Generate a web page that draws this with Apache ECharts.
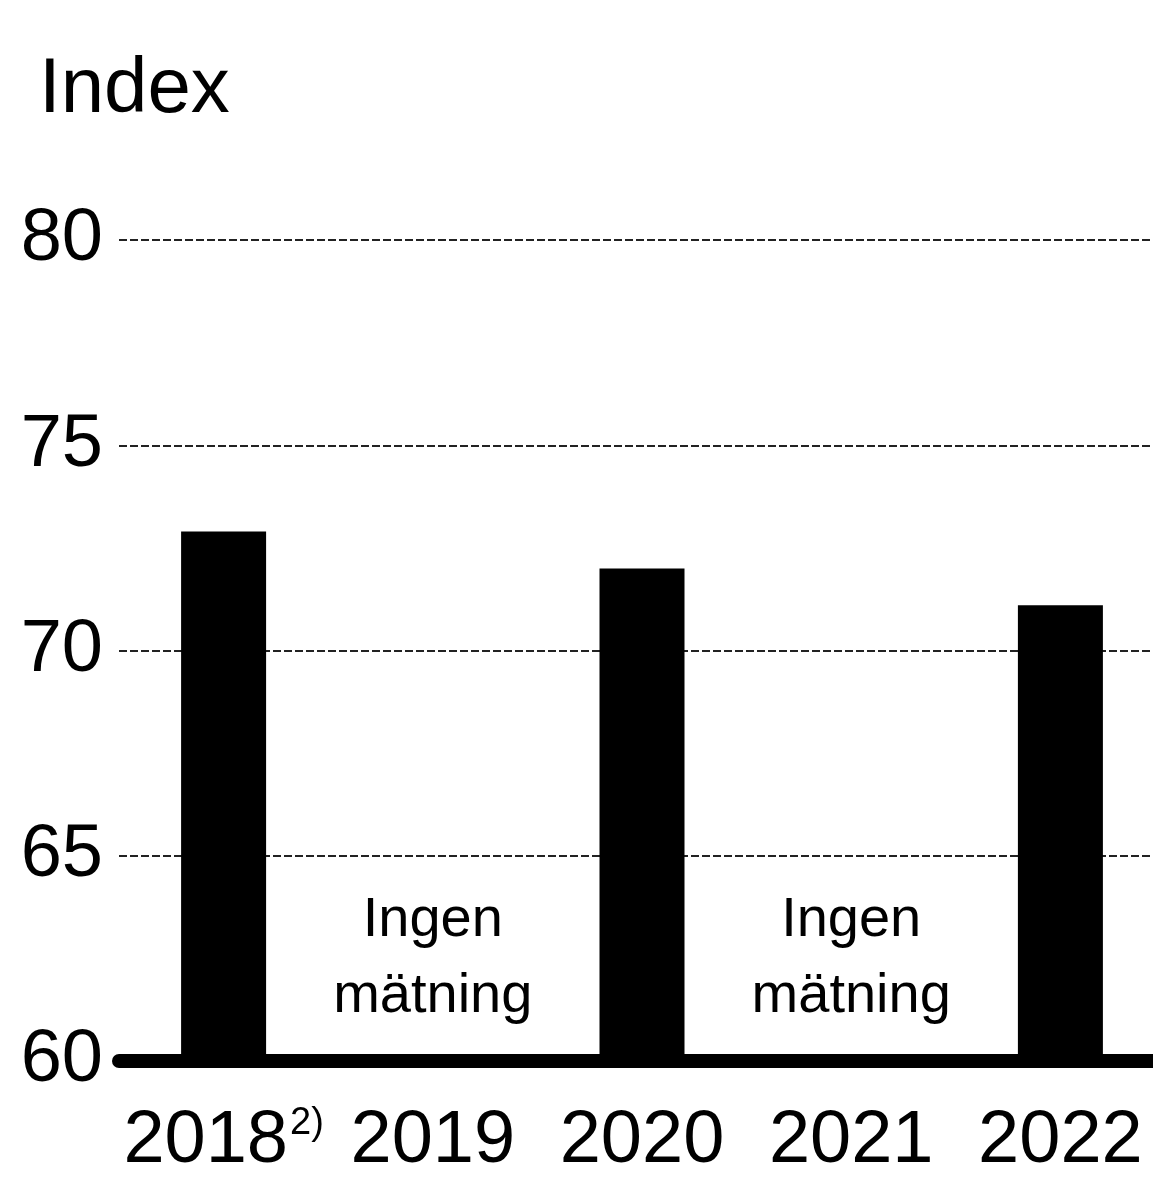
<!DOCTYPE html>
<html>
<head>
<meta charset="utf-8">
<script src="https://cdn.jsdelivr.net/npm/echarts@6/dist/echarts.min.js"></script>
<style>
  html, body { margin: 0; padding: 0; background: #fff; }
  #chart { width: 1153px; height: 1179px; }
</style>
</head>
<body>
<div id="chart"></div>
<script>
// data
var years = ['2018', '2019', '2020', '2021', '2022'];
var yearNotes = ['2)', '', '', '', ''];
var indexValues = [72.9, null, 72.0, null, 71.1];
var noMeasureYears = ['2019', '2021'];
var noMeasureText = 'Ingen\nmätning';
var yTicks = [60, 65, 70, 75, 80];

// no narrow face installed, so sizes are a compromise between the scan's height and width
var font = 'Liberation Sans';
var tickSize = 74;
var chart = echarts.init(document.getElementById('chart'));

var option = {
    backgroundColor: '#fff',
    animation: false,
    textStyle: { fontFamily: font, color: '#000' },
    title: {
        text: 'Index',
        left: 34,
        top: 46,
        textStyle: { fontFamily: font, fontSize: 78, fontWeight: 'normal', color: '#000' }
    },
    grid: {
        left: 119,
        right: -12,
        top: 240,
        bottom: 118,
        outerBoundsMode: 'none',
        containLabel: false
    },
    xAxis: {
        type: 'category',
        data: years,
        axisLine: { show: true, lineStyle: { color: '#000', width: 14 } },
        axisTick: { show: false },
        axisLabel: {
            margin: 44,
            color: '#000',
            formatter: function (v, i) {
                var note = yearNotes[i];
                return note ? '{y|' + v + '}{s|' + note + '}' : '{y|' + v + '}';
            },
            rich: {
                y: { fontFamily: font, fontSize: tickSize, color: '#000' },
                s: { fontFamily: font, fontSize: 38, color: '#000', verticalAlign: 'top', padding: [0, 0, 0, 2] }
            }
        }
    },
    yAxis: {
        type: 'value',
        min: yTicks[0],
        max: yTicks[yTicks.length - 1],
        interval: 5,
        axisLine: { show: false },
        axisTick: { show: false },
        axisLabel: { margin: 16, fontFamily: font, fontSize: tickSize, color: '#000' },
        splitLine: { lineStyle: { color: '#222', width: 2, type: [8, 3] } }
    },
    series: [{
        type: 'bar',
        data: indexValues,
        barWidth: 85,
        itemStyle: { color: '#000' }
    }, {
        type: 'scatter',
        data: noMeasureYears.map(function (y) { return [y, 62.5]; }),
        symbolSize: 1,
        itemStyle: { color: 'transparent' },
        silent: true,
        label: {
            show: true,
            position: 'inside',
            formatter: noMeasureText,
            fontFamily: font,
            fontSize: 56,
            lineHeight: 76,
            opacity: 1,
            color: '#000',
            align: 'center',
            verticalAlign: 'middle'
        }
    }]
};
chart.setOption(option);
</script>
</body>
</html>
